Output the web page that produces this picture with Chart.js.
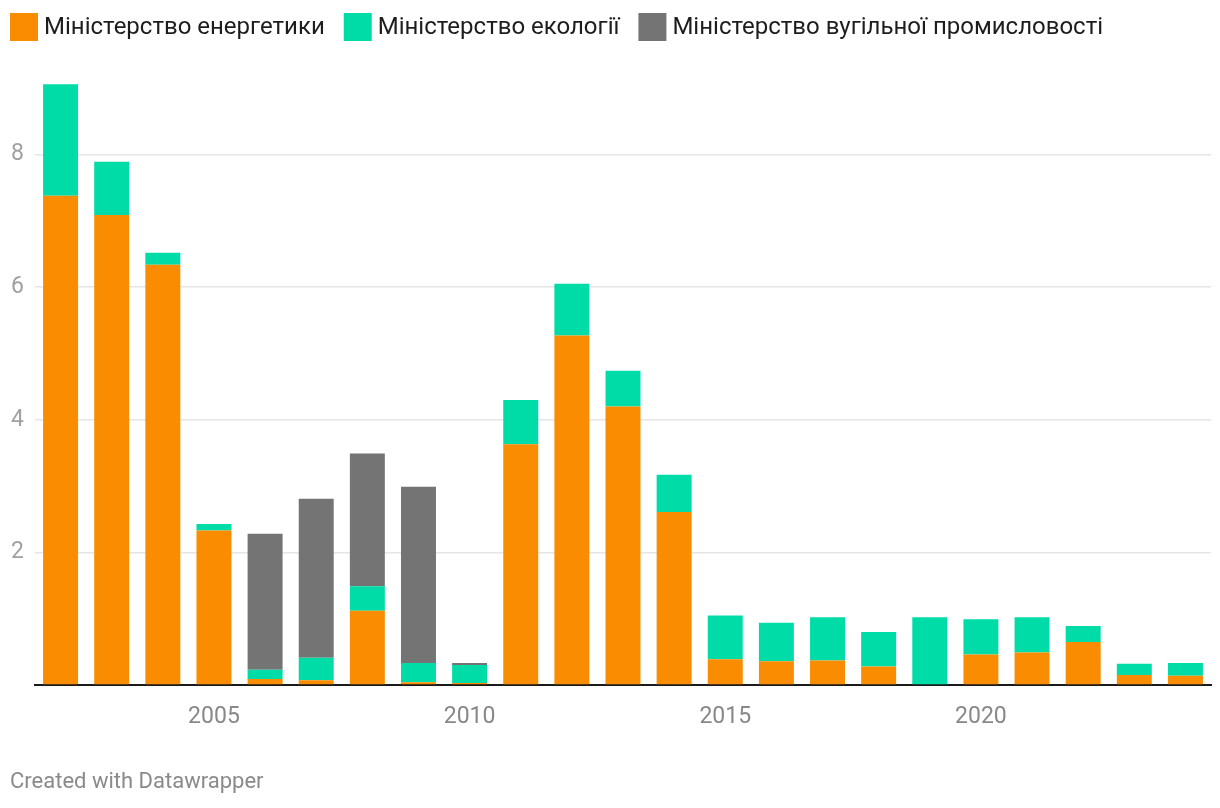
<!DOCTYPE html>
<html>
<head>
<meta charset="utf-8">
<script src="https://cdn.jsdelivr.net/npm/chart.js@4.4.1/dist/chart.umd.min.js"></script>
<style>
  html, body { margin: 0; padding: 0; background: #fff; }
  #wrap { position: relative; width: 1220px; height: 808px; }
</style>
</head>
<body>
<div id="wrap"><canvas id="c" width="1220" height="808"></canvas></div>
<script>
const years = ["2002","2003","2004","2005","2006","2007","2008","2009","2010","2011","2012","2013","2014","2015","2016","2017","2018","2019","2020","2021","2022","2023","2024"];
const energy  = [7.38,7.09,6.34,2.33,0.09,0.07,1.12,0.04,0.03,3.63,5.27,4.20,2.61,0.39,0.36,0.37,0.28,0.00,0.46,0.49,0.65,0.15,0.14];
const ecology = [1.68,0.80,0.18,0.10,0.14,0.34,0.37,0.29,0.27,0.67,0.78,0.54,0.56,0.66,0.58,0.65,0.52,1.02,0.53,0.53,0.24,0.17,0.19];
const coal    = [0,0,0,0,2.05,2.40,2.00,2.66,0.03,0,0,0,0,0,0,0,0,0,0,0,0,0,0];
const seriesNames = ["Міністерство енергетики","Міністерство екології","Міністерство вугільної промисловості"];
const seriesColors = ['#f98c00','#00dca8','#747474'];
const yTicks = [0,2,4,6,8];
const xLabelYears = ["2005","2010","2015","2020"];
const creditText = "Created with Datawrapper";

const FONT = "Roboto, 'Noto Sans', sans-serif";
Chart.defaults.font.family = FONT;
Chart.defaults.animation = false;

const decorPlugin = {
  id: 'decor',
  afterDraw(chart) {
    const ctx = chart.ctx;
    ctx.save();
    // legend
    ctx.font = "24px " + FONT;
    ctx.textBaseline = 'middle';
    ctx.textAlign = 'left';
    let x = 10;
    chart.data.datasets.forEach(ds => {
      ctx.fillStyle = ds.backgroundColor;
      ctx.fillRect(x, 13, 28, 28);
      ctx.fillStyle = '#1d1d1d';
      const tx = x + 34;
      ctx.fillText(ds.label, tx, 27.5);
      x = tx + ctx.measureText(ds.label).width + 19;
    });
    // credit
    ctx.font = "22px " + FONT;
    ctx.fillStyle = '#8a8a8a';
    ctx.fillText(creditText, 10, 782);
    ctx.restore();
  }
};

new Chart(document.getElementById('c'), {
  type: 'bar',
  data: {
    labels: years,
    datasets: [
      { label: seriesNames[0], data: energy,  backgroundColor: seriesColors[0] },
      { label: seriesNames[1], data: ecology, backgroundColor: seriesColors[1] },
      { label: seriesNames[2], data: coal,    backgroundColor: seriesColors[2] }
    ]
  },
  plugins: [decorPlugin],
  options: {
    responsive: false,
    maintainAspectRatio: false,
    layout: { padding: { left: 11, right: 9, top: 75, bottom: 59.4 } },
    datasets: { bar: { categoryPercentage: 1.0, barPercentage: 0.684, borderWidth: 0 } },
    plugins: {
      legend: { display: false },
      title: { display: false },
      tooltip: { enabled: false }
    },
    scales: {
      x: {
        stacked: true,
        grid: { display: false, drawTicks: false },
        border: { display: true, color: '#1a1a1a', width: 2 },
        ticks: {
          autoSkip: false, maxRotation: 0, color: '#888', font: { size: 23 }, padding: 18,
          callback: function(v, i) { const y = years[i]; return xLabelYears.includes(y) ? y : ''; }
        }
      },
      y: {
        stacked: true, min: 0, max: 9.2,
        afterBuildTicks: (s) => { s.ticks = yTicks.map(v => ({ value: v })); },
        afterFit: (s) => { s.width = 24; },
        grid: { color: '#e5e5e5', lineWidth: 1.5, drawTicks: false },
        border: { display: false },
        ticks: {
          color: '#a0a0a0', font: { size: 23 }, crossAlign: 'far', padding: 0,
          callback: (v) => v === 0 ? '' : String(v)
        }
      }
    }
  }
});
</script>
</body>
</html>
